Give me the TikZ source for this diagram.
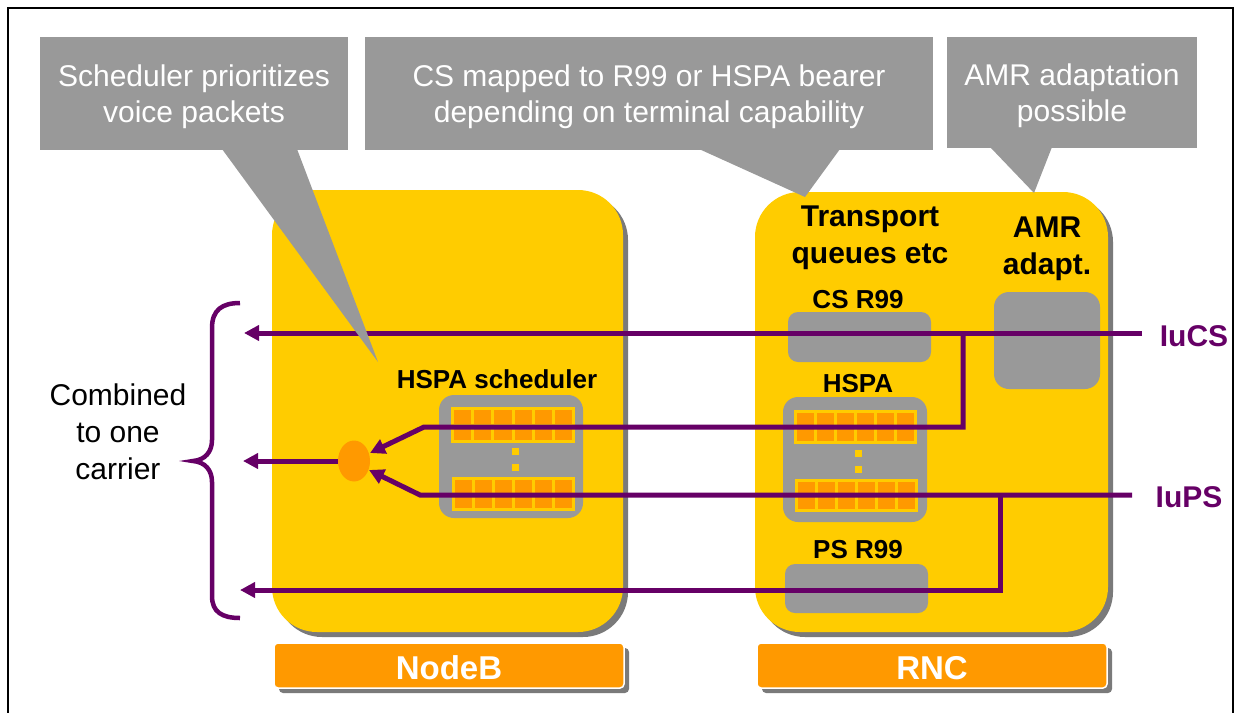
\documentclass[tikz,border=0pt]{standalone}
\usepackage{fontspec}
\setmainfont{Liberation Sans}
\usetikzlibrary{arrows.meta,shapes.geometric}
\definecolor{cgray}{HTML}{999999}
\definecolor{yel}{HTML}{FFCC00}
\definecolor{org}{HTML}{FF9900}
\definecolor{purp}{HTML}{660066}
\definecolor{shad}{HTML}{7A7A7A}
\newcommand{\qstrip}[4]{%
  \fill[yel] (#1,#2) rectangle ++(#3,#4);
  \foreach \i in {0,...,5}{\foreach \j in {0,1}{%
    \fill[org] ({#1+3+\i*(#3-3)/6},{#2+3+\j*(#4-3)/2}) rectangle ++({(#3-3)/6-3},{(#4-3)/2-3});}}%
}
\tikzset{
  calltext/.style={text=white,align=center,font=\fontsize{30}{36}\selectfont},
  lbl/.style={text=black,align=center,font=\bfseries\fontsize{26}{31}\selectfont},
  biglbl/.style={text=black,align=center,font=\bfseries\fontsize{30}{37}\selectfont},
  barlbl/.style={text=white,font=\bfseries\fontsize{33}{38}\selectfont},
  iulbl/.style={text=purp,font=\bfseries\fontsize{30}{36}\selectfont},
  pline/.style={draw=purp,line width=5pt,miter limit=10},
  parrow/.style={pline,-{Triangle[length=15pt,width=15pt]}},
}
\begin{document}
\begin{tikzpicture}[x=1pt,y=-1pt]
\useasboundingbox (0,0) rectangle (1238,712);
% frame
\draw[black,line width=1.3pt] (8,714) -- (8,8) -- (1233,8) -- (1233,714);

% yellow boxes with shadows
\fill[shad,rounded corners=45pt] (277,195) rectangle (628,637);
\fill[yel,rounded corners=45pt] (272,190) rectangle (623,632);
\fill[shad,rounded corners=45pt] (760,197) rectangle (1113,637);
\fill[yel,rounded corners=45pt] (755,192) rectangle (1108,632);

% orange bars
\fill[shad,rounded corners=4pt] (279,648) rectangle (629,693);
\filldraw[fill=org,draw=white,line width=1.5pt,rounded corners=4pt] (274,643) rectangle (624,688);
\node[barlbl] (nodeb) at (449,668) {NodeB};
\fill[shad,rounded corners=4pt] (762,648) rectangle (1112,693);
\filldraw[fill=org,draw=white,line width=1.5pt,rounded corners=4pt] (757,643) rectangle (1107,688);
\node[barlbl] (rnc) at (932,668) {RNC};

% NodeB scheduler
\fill[cgray,rounded corners=15pt] (439,395) rectangle (583,518);
\qstrip{451}{407}{124}{36}
\qstrip{452}{477}{123}{34}
\fill[yel] (512,448) rectangle ++(7,7);
\fill[yel] (512,464) rectangle ++(7,7);
\node[lbl] (hsched) at (497,379) {HSPA scheduler};

% RNC HSPA
\fill[cgray,rounded corners=15pt] (783,397) rectangle (927,522);
\qstrip{794}{410}{123}{34}
\qstrip{795}{479}{123}{33}
\fill[yel] (855,450) rectangle ++(7,7);
\fill[yel] (855,466) rectangle ++(7,7);
\node[lbl] (hspa) at (858,384) {HSPA};

% CS R99, PS R99, AMR boxes
\fill[cgray,rounded corners=10pt] (788,312) rectangle (931,362);
\node[lbl] (csr) at (858,300) {CS R99};
\fill[cgray,rounded corners=10pt] (785,564) rectangle (928,613);
\node[lbl] (psr) at (858,550) {PS R99};
\fill[cgray,rounded corners=15pt] (994,292) rectangle (1100,389);
\node[biglbl] (transp) at (870,238) {Transport\\queues etc};
\node[biglbl] (amr) at (1047,249) {AMR\\adapt.};

% combiner ellipse
\node[ellipse,fill=org,minimum width=32pt,minimum height=41pt,inner sep=0pt] (comb) at (354,461) {};

% purple connectors
\coordinate (iucs) at (1142,333);
\coordinate (iups) at (1132,495);
\coordinate (csj) at (963,333);
\coordinate (psj) at (1000,495);
\coordinate (outA) at (244,333);
\coordinate (outB) at (243,461);
\coordinate (outC) at (240,590);
\draw[parrow] (iucs) -- (outA);
\draw[parrow] (csj) -- (963,427) -- (424,427) -- (370,453);
\draw[parrow] (iups) -- (420,495) -- (369,470);
\draw[parrow] (psj) -- (1000,590) -- (outC);
\draw[parrow] (comb.west) -- (outB);
\node[iulbl] (iucsl) at (1194,336) {IuCS};
\node[iulbl] (iupsl) at (1189,497) {IuPS};

% brace
\draw[purp,line width=4.5pt] (240,303) .. controls (222,303) and (212,310) .. (212,328) -- (212,440)
  .. controls (212,452) and (205,460) .. (193,461)
  .. controls (205,462) and (212,470) .. (212,482) -- (212,596)
  .. controls (212,612) and (222,618) .. (240,618);
\node[calltext,text=black,font=\fontsize{30}{37}\selectfont] (combl) at (118,432) {Combined\\to one\\carrier};

% callouts
\fill[cgray] (40,37) rectangle (348,150);
\fill[cgray] (222,149) -- (297,149) -- (378,362) -- cycle;
\node[calltext] (c1) at (194,97) {Scheduler prioritizes\\voice packets};
\fill[cgray] (365,37) rectangle (933,150);
\fill[cgray] (699,149) -- (840,149) -- (805,197) -- cycle;
\node[calltext] (c2) at (649,97) {CS mapped to R99 or HSPA bearer\\depending on terminal capability};
\fill[cgray] (947,37) rectangle (1197,148);
\fill[cgray] (990,147) -- (1052,147) -- (1034,193) -- cycle;
\node[calltext] (c3) at (1072,96) {AMR adaptation\\possible};
\end{tikzpicture}
\end{document}
